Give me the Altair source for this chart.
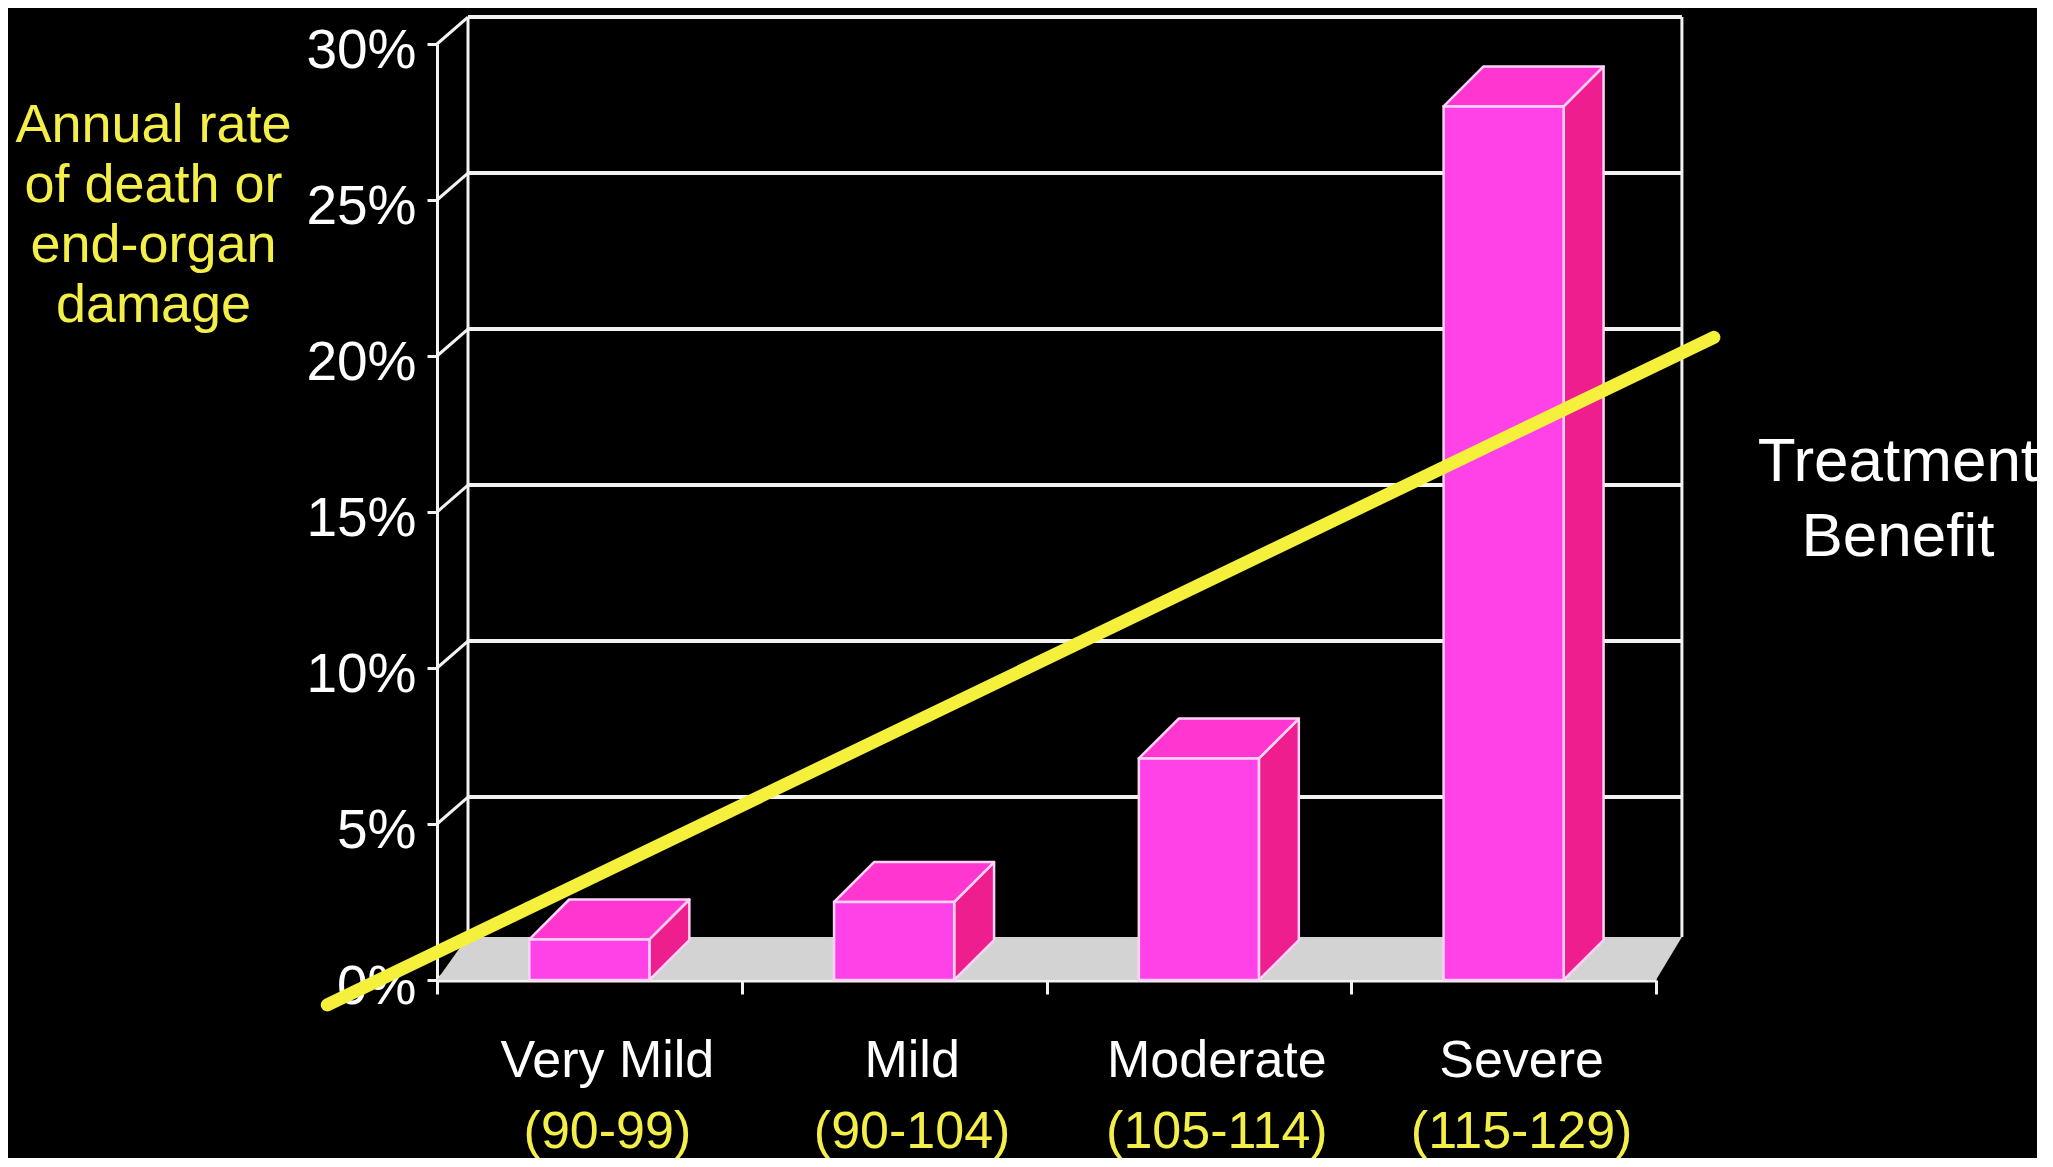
import altair as alt
import pandas as pd

# ---------------- data ----------------
categories = ["Very Mild", "Mild", "Moderate", "Severe"]
ranges = ["(90-99)", "(90-104)", "(105-114)", "(115-129)"]
rates = [1.3, 2.5, 7.1, 28.0]
y_ticks = [0, 5, 10, 15, 20, 25, 30]
benefit_x = [-0.36, 4.19]
benefit_y = [-0.8, 20.6]
title_lines = ["Annual rate", "of death or", "end-organ", "damage"]
benefit_label = ["Treatment", "Benefit"]
benefit_label_y = [16.6, 14.2]

# ---------------- style / geometry constants ----------------
W, H = 1219, 936
wall_dx, wall_dy = 0.1017, 0.865
wall_right = 4.085
bar_half = 0.197
bar_dx, bar_dy = 0.131, 1.28
floor_dy = 1.38
floor_dx_left, floor_dx_right = 0.10, 0.085
FONT = "Liberation Sans, Arial, Helvetica, sans-serif"
YELLOW = "#F4EE48"
LINE_YELLOW = "#F5F03C"
WHITE = "#F2F2F2"

xscale = alt.Scale(domain=[0, 4], nice=False, zero=False)
yscale = alt.Scale(domain=[0, 30], nice=False, zero=False)

xaxis = alt.Axis(values=[0, 1, 2, 3, 4], labels=False, title=None, grid=False,
                 tickColor=WHITE, tickSize=14, tickWidth=3,
                 domainColor=WHITE, domainWidth=4)
yaxis = alt.Axis(values=y_ticks, labelExpr="datum.value + '%'", grid=False,
                 labelColor="white", labelFont=FONT, labelFontSize=55,
                 labelPadding=11, labelOffset=6,
                 tickColor=WHITE, tickSize=10, tickWidth=3,
                 domainColor=WHITE, domainWidth=3,
                 title=title_lines, titleColor=YELLOW, titleFont=FONT,
                 titleFontSize=54, titleFontWeight="normal", titleAngle=0,
                 titleAlign="center", titleBaseline="alphabetic",
                 titleLineHeight=60, titleX=-284, titleY=97)


def X(f):
    return alt.X(f, type="quantitative", scale=xscale, axis=xaxis)


def Y(f):
    return alt.Y(f, type="quantitative", scale=yscale, axis=yaxis)


# ---------------- back wall ----------------
grid_df = pd.DataFrame({
    "x": [wall_dx] * 6,
    "x2": [wall_right] * 6,
    "y": [v + wall_dy for v in y_ticks[1:]],
})
grid = alt.Chart(grid_df).mark_rule(color=WHITE, strokeWidth=4).encode(
    x=X("x"), x2="x2", y=Y("y"))

diag_df = pd.DataFrame({
    "x": [0.0] * len(y_ticks),
    "x2": [wall_dx] * len(y_ticks),
    "y": y_ticks,
    "y2": [v + wall_dy for v in y_ticks],
})
diag = alt.Chart(diag_df).mark_rule(color=WHITE, strokeWidth=3).encode(
    x=X("x"), x2="x2", y=Y("y"), y2="y2")

vert_df = pd.DataFrame({
    "x": [wall_dx, wall_right],
    "y": [floor_dy, floor_dy],
    "y2": [30 + wall_dy, 30 + wall_dy],
})
vert = alt.Chart(vert_df).mark_rule(color=WHITE, strokeWidth=3).encode(
    x=X("x"), y=Y("y"), y2="y2")

# ---------------- floor ----------------
floor_df = pd.DataFrame({
    "y": [0.0, floor_dy],
    "x": [0.0, floor_dx_left],
    "x2": [4.0, 4 + floor_dx_right],
})
floor = alt.Chart(floor_df).mark_area(orient="horizontal", color="#D3D3D3").encode(
    y=Y("y"), x=X("x"), x2="x2")

# ---------------- 3D bars ----------------
rows_top, rows_side, rows_front = [], [], []
for i, (c, v) in enumerate(zip(categories, rates)):
    x0 = i + 0.5 - bar_half
    x1 = i + 0.5 + bar_half
    rows_front.append({"cat": c, "x": x0, "x2": x1, "y": 0.0, "y2": v})
    rows_top.append({"cat": c, "y": v, "x": x0, "x2": x1})
    rows_top.append({"cat": c, "y": v + bar_dy, "x": x0 + bar_dx, "x2": x1 + bar_dx})
    rows_side.append({"cat": c, "x": x1, "y": 0.0, "y2": v})
    rows_side.append({"cat": c, "x": x1 + bar_dx, "y": bar_dy, "y2": v + bar_dy})

EDGE = "#FFD2F7"
side = alt.Chart(pd.DataFrame(rows_side)).mark_area(
    orient="vertical", color="#EE1E8E", stroke=EDGE, strokeWidth=2.5,
    strokeJoin="round").encode(x=X("x"), y=Y("y"), y2="y2", detail="cat:N")
top = alt.Chart(pd.DataFrame(rows_top)).mark_area(
    orient="horizontal", color="#FF36D0", stroke=EDGE, strokeWidth=2.5,
    strokeJoin="round").encode(y=Y("y"), x=X("x"), x2="x2", detail="cat:N")
front = alt.Chart(pd.DataFrame(rows_front)).mark_rect(
    color="#FF42E8", stroke=EDGE, strokeWidth=2.5).encode(
    x=X("x"), x2="x2", y=Y("y"), y2="y2")

# ---------------- treatment benefit line ----------------
line = alt.Chart(pd.DataFrame({"x": benefit_x, "y": benefit_y})).mark_line(
    color=LINE_YELLOW, strokeWidth=13, strokeCap="round").encode(
    x=X("x"), y=Y("y"))

# ---------------- texts ----------------
lab_df = pd.DataFrame({
    "x": [i + 0.5 for i in range(len(categories))],
    "y": [0.0] * len(categories),
    "name": categories,
    "rng": ranges,
})
names = alt.Chart(lab_df).mark_text(
    color="white", font=FONT, fontSize=52, dy=97, dx=18,
    baseline="alphabetic", align="center").encode(
    x=X("x"), y=Y("y"), text="name:N")
rngs = alt.Chart(lab_df).mark_text(
    color=YELLOW, font=FONT, fontSize=52, dy=168, dx=18,
    baseline="alphabetic", align="center").encode(
    x=X("x"), y=Y("y"), text="rng:N")

ben_df = pd.DataFrame({"x": [4.794, 4.794], "y": benefit_label_y, "t": benefit_label})
ben = alt.Chart(ben_df).mark_text(
    color="white", font=FONT, fontSize=62, baseline="middle",
    align="center").encode(x=X("x"), y=Y("y"), text="t:N")

chart = alt.layer(grid, diag, vert, floor, side, top, front, line,
                  names, rngs, ben).properties(
    width=W, height=H,
    padding={"left": 429, "top": 36, "right": 381, "bottom": 178},
    autosize=alt.AutoSizeParams(type="none"),
).configure(background="black").configure_view(stroke=None)

chart.save("out.html", embed_options={"renderer": "svg", "actions": False})
